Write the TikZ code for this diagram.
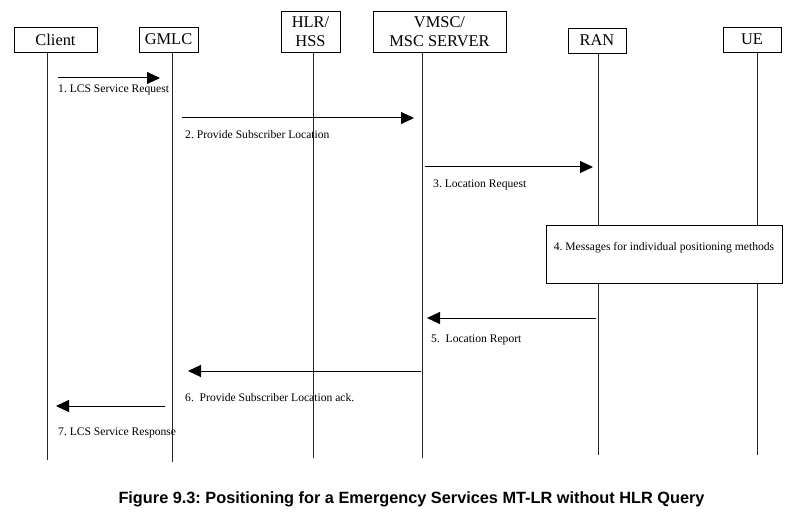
\documentclass[tikz,border=0pt]{standalone}
\usepackage{fontspec}
\setmainfont{Liberation Serif}
\newfontfamily\capfont{Liberation Sans}
\usetikzlibrary{arrows.meta,positioning}
\tikzset{
	ent/.style={draw,rectangle,align=center,inner sep=0pt,minimum height=25pt,font=\fontsize{16.4}{19}\selectfont},
	life/.style={draw=black!85,line width=1pt},
	msg/.style={-{Triangle[length=13pt,width=12pt]},line width=1pt},
	lbl/.style={anchor=west,inner sep=0pt,font=\fontsize{11.6}{13}\selectfont},
	procbox/.style={draw,rectangle,fill=white,align=center,inner sep=0pt,font=\fontsize{11.6}{13}\selectfont}
}
\begin{document}
\frenchspacing
\begin{tikzpicture}[x=1pt,y=-1pt]
	\useasboundingbox (0,0) rectangle (795,513);
	\node[ent,minimum width=83pt] (client) at (55.5,39.5) {Client};
	\node[ent,minimum width=59pt] (gmlc) at (168.5,39.5) {GMLC};
	\node[ent,minimum width=59pt,minimum height=41pt] (hlr) at (310.5,31.5) {HLR/\\HSS};
	\node[ent,minimum width=133pt,minimum height=41pt] (vmsc) at (439.5,31.5) {VMSC/\\MSC SERVER};
	\node[ent,minimum width=58pt] (ran) at (597,40.5) {RAN};
	\node[ent,minimum width=58pt] (ue) at (752,39.5) {UE};
	\coordinate (clientB) at (47,460);
	\coordinate (gmlcB) at (172,462);
	\coordinate (hlrB) at (313,458);
	\coordinate (vmscB) at (422,458);
	\coordinate (ranB) at (598,455);
	\coordinate (ueB) at (757,455);
	\draw[life] (client.south -| clientB) -- (clientB);
	\draw[life] (gmlc.south -| gmlcB) -- (gmlcB);
	\draw[life] (hlr.south -| hlrB) -- (hlrB);
	\draw[life] (vmsc.south -| vmscB) -- (vmscB);
	\draw[life] (ran.south -| ranB) -- (ranB);
	\draw[life] (ue.south -| ueB) -- (ueB);

	\coordinate (m1a) at (58,78); \coordinate (m1b) at (160,78);
	\coordinate (m2a) at (182,118); \coordinate (m2b) at (414,118);
	\coordinate (m3a) at (425,167); \coordinate (m3b) at (593,167);
	\coordinate (m5a) at (596,318); \coordinate (m5b) at (427,318);
	\coordinate (m6a) at (421,371); \coordinate (m6b) at (188,371);
	\coordinate (m7a) at (165,406); \coordinate (m7b) at (56,406);
	\draw[msg] (m1a) -- (m1b);
	\draw[msg] (m2a) -- (m2b);
	\draw[msg] (m3a) -- (m3b);
	\draw[msg] (m5a) -- (m5b);
	\draw[msg] (m6a) -- (m6b);
	\draw[msg] (m7a) -- (m7b);
	\node[lbl] (l1) at (58,90) {1. LCS Service Request};
	\node[lbl] (l2) at (185,135) {2. Provide Subscriber Location};
	\node[lbl] (l3) at (433,185) {3. Location Request};
	\node[procbox,minimum width=236pt,minimum height=58pt] (pos) at (664,254) {4. Messages for individual positioning methods\\[3pt]\mbox{}};
	\node[lbl] (l5) at (431,340) {5.~~Location Report};
	\node[lbl] (l6) at (185,398) {6.~~Provide Subscriber Location ack.};
	\node[lbl] (l7) at (58,433) {7. LCS Service Response};

	\node[font=\capfont\bfseries\fontsize{16.3}{18}\selectfont] (cap) at (411.5,499) {Figure 9.3: Positioning for a Emergency Services MT-LR without HLR Query};
\end{tikzpicture}
\end{document}
